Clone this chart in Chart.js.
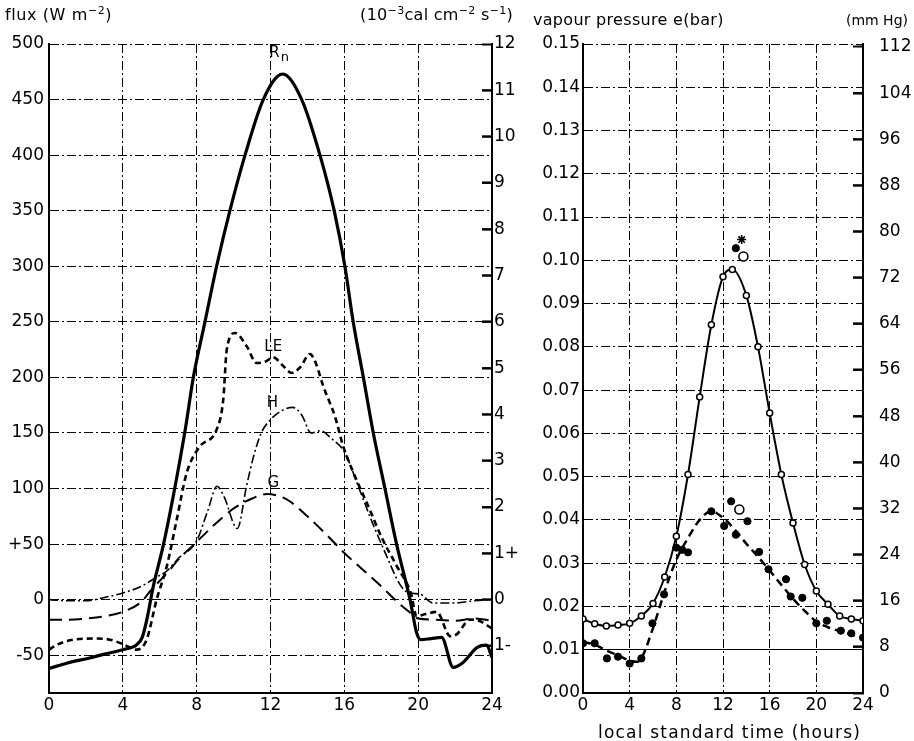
<!DOCTYPE html>
<html lang="en">
<head>
<meta charset="utf-8">
<title>Diurnal energy balance and vapour pressure</title>
<script src="https://cdn.jsdelivr.net/npm/chart.js@4.4.1/dist/chart.umd.min.js"></script>
<style>
  html, body { margin: 0; padding: 0; background: #fff; }
  #page { position: relative; width: 914px; height: 741px; overflow: hidden;
          font-family: "DejaVu Sans", sans-serif; color: #000; }
  canvas { position: absolute; top: 0; }
  #fluxChart { left: 0; }
  #vapourChart { left: 520px; }
  .caption { position: absolute; font-size: 16px; line-height: 16px; white-space: nowrap; }
  .caption sup { font-size: 11px; vertical-align: 6px; line-height: 0; }
</style>
</head>
<body>
<div id="page">
  <canvas id="fluxChart" width="520" height="741"></canvas>
  <canvas id="vapourChart" width="394" height="741"></canvas>
  <div class="caption" style="left:5px; top:7px; letter-spacing:0.6px;">flux (W m<sup>−2</sup>)</div>
  <div class="caption" style="right:401px; top:7px; letter-spacing:0.3px;">(10<sup>−3</sup>cal cm<sup>−2</sup> s<sup>−1</sup>)</div>
  <div class="caption" style="left:533px; top:12px; letter-spacing:0.3px;">vapour pressure e(bar)</div>
  <div class="caption" style="right:6px; top:12px; font-size:14px;">(mm Hg)</div>
  <div class="caption" style="left:598px; top:724px; font-size:17px; letter-spacing:1.2px;">local standard time (hours)</div>
</div>
<script>
// ---- Energy-balance components (W m-2) against local time (hours) ----
const rnHours = [0, 1, 2.2, 3, 4, 4.75, 5.05, 5.3, 5.65, 6.2, 6.73, 7.4, 7.82, 8.45, 9.08, 9.8, 10.62, 11.61, 12.66, 13.69, 14.68, 15.45, 16.03, 16.48, 17.03, 17.57, 18.2, 18.83, 19.56, 19.92, 20.15, 20.7, 21.27, 21.9, 22.4, 23.2, 23.7, 24];
const rnFlux  = [-62, -57, -52.5, -49, -45, -40.5, -34, -18, 12, 49.5, 93, 155, 200, 250, 300, 350, 400, 450, 473, 450, 400, 350, 300, 250, 200, 150, 100, 50, 0, -30, -36, -35, -34, -61, -57, -43, -41, -52];

const leHours = [0, 0.5, 1.32, 2.5, 3.3, 4, 4.75, 5.29, 5.83, 6.38, 6.92, 7.46, 8.18, 9.08, 9.44, 9.63, 10.08, 10.71, 11.25, 11.7, 12.15, 12.65, 13.15, 13.6, 14.14, 14.45, 14.86, 15.49, 15.94, 16.6, 17.3, 18.05, 18.85, 19.6, 19.92, 20.4, 21, 21.75, 22.1, 22.8, 23.3, 24];
const leFlux  = [-45, -40, -36, -35, -36, -40, -45, -36, 0, 30, 72, 114, 138, 153, 180, 225, 240, 228, 213, 214, 218, 211, 204, 209, 221, 213, 192, 165, 138, 110, 84, 55, 30, 6, -15, -13, -11, -33, -31, -18, -19, -26];

const hHours = [0, 1, 2, 3, 4, 5, 5.8, 6.4, 7, 8, 8.6, 9.1, 9.5, 10.2, 10.7, 11.07, 11.5, 12, 12.6, 13.2, 13.7, 14.2, 14.7, 15.3, 16, 16.8, 17.5, 18.3, 19, 19.5, 20.1, 20.8, 22, 23, 24];
const hFlux  = [0, -1, -1, 2, 6, 12, 20, 26, 37, 53, 80, 102, 92, 64, 102, 128, 150, 162, 170, 173, 166, 150, 152, 145, 133, 100, 70, 39, 14, 6, 5, -3, -3, -1, 0];

const gHours = [0, 1, 2, 3, 4, 5, 5.5, 6, 6.5, 7, 8, 9, 10, 11, 11.8, 12.5, 13, 14, 15, 16, 17, 18, 19, 19.6, 20, 21, 22, 23, 24];
const gFlux  = [-18, -18, -17, -15, -11, -2, 8, 17, 26, 36, 52, 68, 82, 91, 95, 93, 89, 75, 59, 42, 27, 12, -4, -12, -17, -18, -19, -17, -19];

// ---- Vapour pressure (bar) ----
// open circles joined by the solid curve
const eSurfHours = [0, 1, 2, 3, 4, 5, 6, 7, 8, 9, 10, 11, 12, 12.8, 14, 15, 16, 17, 18, 19, 20, 21, 22, 23, 24];
const eSurf      = [0.0171, 0.0160, 0.0155, 0.0157, 0.0161, 0.0178, 0.0207, 0.0268, 0.0362, 0.0505, 0.0684, 0.0851, 0.0962, 0.0979, 0.0919, 0.0800, 0.0647, 0.0505, 0.0393, 0.0297, 0.0236, 0.0205, 0.0178, 0.0171, 0.0167];
// filled dots
const eAirHours = [0, 1, 2.05, 3, 4, 5, 5.95, 6.95, 8, 8.5, 9, 11, 12.1, 13.1, 15.1, 15.9, 17.4, 17.8, 18.8, 20, 20.9, 22.1, 23, 24];
const eAir      = [0.0115, 0.0115, 0.0080, 0.0084, 0.0068, 0.0080, 0.0161, 0.0228, 0.0336, 0.0331, 0.0325, 0.0420, 0.0386, 0.0366, 0.0326, 0.0286, 0.0263, 0.0223, 0.0220, 0.0161, 0.0167, 0.0144, 0.0138, 0.0128];
// dashed curve drawn through the filled dots
const eAirCurveHours = [0, 1, 2, 3, 4, 4.6, 5, 6, 7, 8, 9, 10, 11, 12, 13, 14, 15, 16, 17, 18, 19, 20, 21, 22, 23, 24];
const eAirCurve      = [0.0118, 0.0112, 0.0098, 0.0087, 0.0075, 0.0072, 0.0080, 0.0150, 0.0235, 0.0308, 0.0358, 0.0400, 0.0420, 0.0405, 0.0378, 0.0345, 0.0315, 0.0283, 0.0250, 0.0218, 0.0190, 0.0165, 0.0152, 0.0143, 0.0135, 0.0128];
// separate readings near midday
const extraDotHours  = [13.1, 12.7, 14.1];
const extraDot       = [0.1028, 0.0443, 0.0397];
const extraRingHours = [13.75, 13.4];
const extraRing      = [0.1009, 0.0424];
const starHours      = [13.6];
const starValue      = [0.1048];

// ---- Axis ticks ----
const hourTicks = [0, 4, 8, 12, 16, 20, 24];
const fluxTicks = [-50, 0, 50, 100, 150, 200, 250, 300, 350, 400, 450, 500];
const calTicks  = [-1, 0, 1, 2, 3, 4, 5, 6, 7, 8, 9, 10, 11, 12];
const barTicks  = [0, 0.01, 0.02, 0.03, 0.04, 0.05, 0.06, 0.07, 0.08, 0.09, 0.10, 0.11, 0.12, 0.13, 0.14, 0.15];
const mmHgTicks = [0, 8, 16, 24, 32, 40, 48, 56, 64, 72, 80, 88, 96, 104, 112];

const FLUX_MIN = -84, FLUX_MAX = 500;
const FLUX_PER_CAL = FLUX_MAX / 12;     // right-hand scale: 12 units of 1e-3 cal cm-2 s-1 at 500 W m-2
const BAR_MIN = 0, BAR_MAX = 0.15;
const MMHG_PER_BAR = 750.06;

const pts = (xs, ys) => xs.map((x, i) => ({ x, y: ys[i] }));
const useTicks = list => scale => { scale.ticks = list.map(v => ({ value: v })); };
const DASH_DOT = [9, 3, 2, 3];
const tickFont = { family: 'DejaVu Sans', size: 17 };

// short marks pointing into the plot from the right-hand border
function inwardMarks(axisId, values, markLen, markWidth) {
  return {
    id: 'inwardMarks',
    afterDatasetsDraw(chart) {
      const scale = chart.scales[axisId];
      const area = chart.chartArea;
      const ctx = chart.ctx;
      ctx.save();
      ctx.fillStyle = '#000';
      for (const v of values) {
        const y = scale.getPixelForValue(v);
        if (y < area.top + 3 || y > area.bottom - 3) continue;
        ctx.fillRect(area.right - markLen, y - markWidth / 2, markLen, markWidth);
      }
      ctx.restore();
    }
  };
}

// curve names placed in data coordinates
function curveLabels(items, size, subSize) {
  return {
    id: 'curveLabels',
    afterDatasetsDraw(chart) {
      const { ctx, scales } = chart;
      ctx.save();
      ctx.fillStyle = '#000';
      ctx.textBaseline = 'middle';
      for (const item of items) {
        const px = scales.x.getPixelForValue(item.hour);
        const py = scales.y.getPixelForValue(item.flux);
        ctx.font = size + 'px "DejaVu Sans"';
        if (item.sub) {
          const w = ctx.measureText(item.text).width;
          ctx.textAlign = 'left';
          ctx.fillText(item.text, px - w, py);
          ctx.font = subSize + 'px "DejaVu Sans"';
          ctx.fillText(item.sub, px + 1, py + 5);
        } else {
          ctx.textAlign = 'center';
          ctx.fillText(item.text, px, py);
        }
      }
      ctx.restore();
    }
  };
}

const gridOpts = { color: '#000', lineWidth: 1, drawTicks: false };
const borderOpts = { display: true, color: '#000', width: 2, dash: DASH_DOT };
// right-hand axes: no grid lines across the plot, tick marks pointing inward
const inwardGrid = { display: true, drawOnChartArea: false, drawTicks: true, tickLength: -10,
                     tickWidth: 2, tickColor: '#000', color: '#000' };

new Chart(document.getElementById('fluxChart'), {
  type: 'line',
  plugins: [
    inwardMarks('cal', calTicks, 10, 2),
    curveLabels([
      { text: 'R', sub: 'n', hour: 12.5, flux: 492 },
      { text: 'LE', hour: 12.15, flux: 227 },
      { text: 'H', hour: 12.1, flux: 177 },
      { text: 'G', hour: 12.15, flux: 105 }
    ], 15, 13)
  ],
  data: {
    datasets: [
      { label: 'Rn', data: pts(rnHours, rnFlux), borderColor: '#000', borderWidth: 3.2,
        pointRadius: 0, fill: false, cubicInterpolationMode: 'monotone' },
      { label: 'LE', data: pts(leHours, leFlux), borderColor: '#000', borderWidth: 2.6, borderDash: [6, 4],
        pointRadius: 0, fill: false, cubicInterpolationMode: 'monotone' },
      { label: 'H', data: pts(hHours, hFlux), borderColor: '#000', borderWidth: 1.6, borderDash: [9, 3, 2, 3],
        pointRadius: 0, fill: false, cubicInterpolationMode: 'monotone' },
      { label: 'G', data: pts(gHours, gFlux), borderColor: '#000', borderWidth: 2, borderDash: [13, 7],
        pointRadius: 0, fill: false, cubicInterpolationMode: 'monotone' }
    ]
  },
  options: {
    responsive: false,
    animation: false,
    layout: { padding: { top: 44, left: 0, right: 0, bottom: 0 } },
    plugins: { legend: { display: false }, tooltip: { enabled: false } },
    scales: {
      x: {
        type: 'linear', position: 'bottom', min: 0, max: 24,
        afterBuildTicks: useTicks(hourTicks),
        afterFit: s => { s.height = 48; },
        grid: gridOpts, border: borderOpts,
        ticks: { color: '#000', font: tickFont, padding: 2, autoSkip: false, maxRotation: 0 }
      },
      y: {
        type: 'linear', position: 'left', min: FLUX_MIN, max: FLUX_MAX,
        afterBuildTicks: useTicks(fluxTicks),
        afterFit: s => { s.width = 49; },
        grid: gridOpts, border: borderOpts,
        ticks: { color: '#000', font: tickFont, padding: 5, autoSkip: false,
                 callback: v => (v === 50 ? '+50' : String(v)) }
      },
      cal: {
        type: 'linear', position: 'right', min: FLUX_MIN / FLUX_PER_CAL, max: FLUX_MAX / FLUX_PER_CAL,
        afterBuildTicks: useTicks(calTicks),
        afterFit: s => { s.width = 28; },
        grid: inwardGrid,
        border: { display: true, color: '#000', width: 2 },
        ticks: { color: '#000', font: tickFont, padding: 12, autoSkip: false,
                 callback: v => (v === 1 ? '1+' : v === -1 ? '1-' : String(v)) }
      }
    }
  }
});

new Chart(document.getElementById('vapourChart'), {
  type: 'line',
  plugins: [inwardMarks('mmHg', mmHgTicks, 10, 2)],
  data: {
    datasets: [
      { label: 'e surface', data: pts(eSurfHours, eSurf), borderColor: '#000', borderWidth: 2,
        pointRadius: 3, pointBackgroundColor: '#fff', pointBorderColor: '#000', pointBorderWidth: 1.5,
        fill: false, cubicInterpolationMode: 'monotone' },
      { label: 'e air curve', data: pts(eAirCurveHours, eAirCurve), borderColor: '#000', borderWidth: 2.5,
        borderDash: [8, 5], pointRadius: 0, fill: false, cubicInterpolationMode: 'monotone' },
      { label: 'e air', data: pts(eAirHours, eAir), showLine: false,
        pointRadius: 3.6, pointBackgroundColor: '#000', pointBorderColor: '#000', pointBorderWidth: 1 },
      { label: 'extra dots', data: pts(extraDotHours, extraDot), showLine: false,
        pointRadius: 3.6, pointBackgroundColor: '#000', pointBorderColor: '#000', pointBorderWidth: 1 },
      { label: 'extra rings', data: pts(extraRingHours, extraRing), showLine: false,
        pointRadius: 4.5, pointBackgroundColor: '#fff', pointBorderColor: '#000', pointBorderWidth: 1.6 },
      { label: 'star', data: pts(starHours, starValue), showLine: false, pointStyle: 'star',
        pointRadius: 4.5, pointBorderColor: '#000', pointBorderWidth: 1.6 }
    ]
  },
  options: {
    responsive: false,
    animation: false,
    layout: { padding: { top: 44, left: 0, right: 0, bottom: 0 } },
    plugins: { legend: { display: false }, tooltip: { enabled: false } },
    scales: {
      x: {
        type: 'linear', position: 'bottom', min: 0, max: 24,
        afterBuildTicks: useTicks(hourTicks),
        afterFit: s => { s.height = 48; },
        grid: gridOpts, border: borderOpts,
        ticks: { color: '#000', font: tickFont, padding: 2, autoSkip: false, maxRotation: 0 }
      },
      y: {
        type: 'linear', position: 'left', min: BAR_MIN, max: BAR_MAX,
        afterBuildTicks: useTicks(barTicks),
        afterFit: s => { s.width = 63; },
        grid: gridOpts,
        border: { display: true, color: '#000', width: 2,
                  dash: ctx => (ctx.tick && Math.abs(ctx.tick.value - 0.01) < 1e-9 ? [] : DASH_DOT) },
        ticks: { color: '#000', font: tickFont, padding: 3, autoSkip: false,
                 callback: v => v.toFixed(2) }
      },
      mmHg: {
        type: 'linear', position: 'right', min: BAR_MIN * MMHG_PER_BAR, max: BAR_MAX * MMHG_PER_BAR,
        afterBuildTicks: useTicks(mmHgTicks),
        afterFit: s => { s.width = 51; },
        grid: inwardGrid,
        border: { display: true, color: '#000', width: 2 },
        ticks: { color: '#000', font: tickFont, padding: 26, autoSkip: false,
                 callback: v => String(v) }
      }
    }
  }
});
</script>
</body>
</html>
